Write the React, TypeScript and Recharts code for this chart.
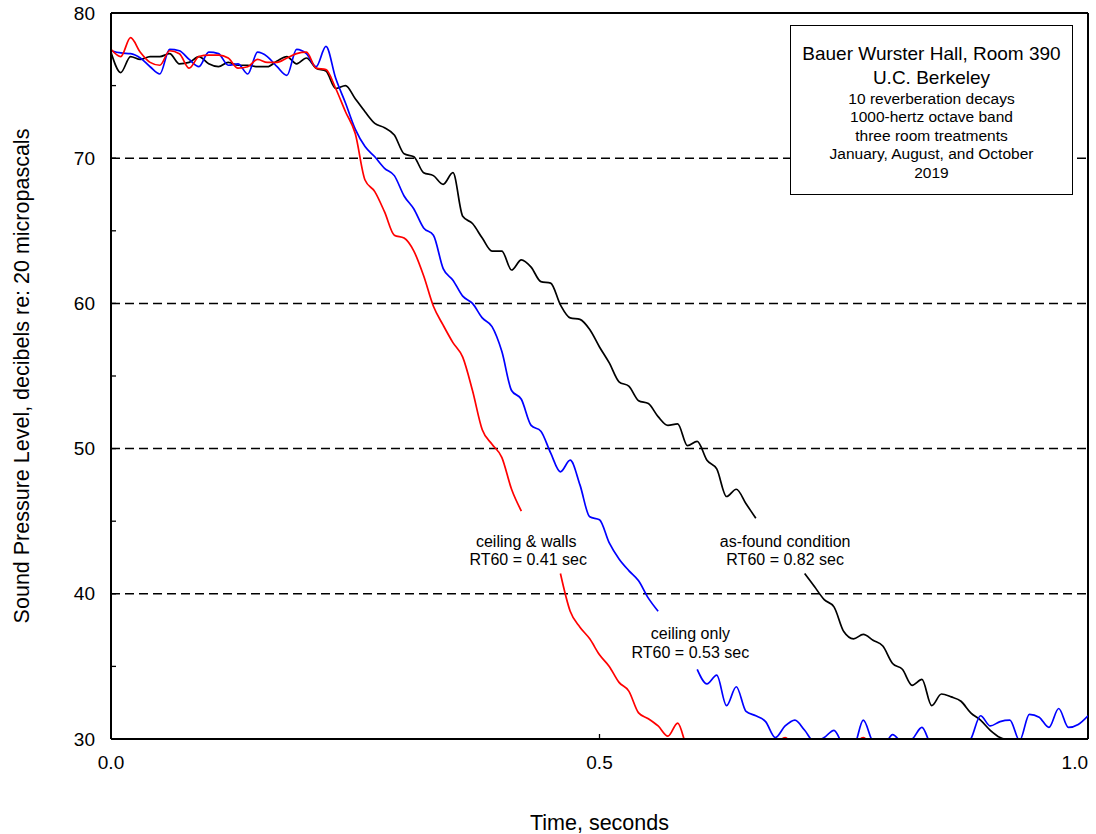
import React from 'react';
import { LineChart, Line, XAxis, YAxis, ReferenceLine, ReferenceDot, Label } from 'recharts';

// time axis, seconds
const times = [
  0, 0.01, 0.02, 0.03, 0.04, 0.05, 0.06, 0.07, 0.08, 0.09,
  0.1, 0.11, 0.12, 0.13, 0.14, 0.15, 0.16, 0.17, 0.18, 0.19,
  0.2, 0.21, 0.22, 0.23, 0.24, 0.25, 0.26, 0.27, 0.28, 0.29,
  0.3, 0.31, 0.32, 0.33, 0.34, 0.35, 0.36, 0.37, 0.38, 0.39,
  0.4, 0.41, 0.42, 0.43, 0.44, 0.45, 0.46, 0.47, 0.48, 0.49,
  0.5, 0.51, 0.52, 0.53, 0.54, 0.55, 0.56, 0.57, 0.58, 0.59,
  0.6, 0.61, 0.62, 0.63, 0.64, 0.65, 0.66, 0.67, 0.68, 0.69,
  0.7, 0.71, 0.72, 0.73, 0.74, 0.75, 0.76, 0.77, 0.78, 0.79,
  0.8, 0.81, 0.82, 0.83, 0.84, 0.85, 0.86, 0.87, 0.88, 0.89,
  0.9, 0.91, 0.92, 0.93, 0.94, 0.95, 0.96, 0.97, 0.98, 0.99,
  1.0,
];

// as-found condition (black)
const asFound = [
  77.3, 75.9, 77.0, 76.8, 77.0, 77.0, 77.2, 76.5, 76.6, 77.0,
  76.5, 76.3, 76.6, 76.4, 76.4, 76.3, 76.3, 76.7, 77.0, 76.5,
  76.9, 76.2, 76.0, 74.8, 75.0, 74.1, 73.2, 72.4, 72.1, 71.6,
  70.3, 70.1, 69.0, 68.8, 68.2, 69.0, 66.0, 65.5, 64.5, 63.6,
  63.6, 62.3, 63.0, 62.5, 61.5, 61.4, 59.9, 59.0, 58.9, 58.2,
  57.0, 55.9, 54.6, 54.3, 53.3, 53.1, 52.2, 51.6, 51.7, 50.2,
  50.5, 49.2, 48.6, 46.7, 47.2, 46.2, 45.2, null, null, null,
  null, 41.4, 40.5, 39.6, 39.1, 37.4, 36.9, 37.2, 36.8, 36.4,
  35.2, 34.8, 33.7, 34.1, 32.3, 33.1, 32.9, 32.6, 31.8, 31.3,
  30.6, 30.1, 29.9, 29.6, null, null, null, null, null, null,
  null,
];

// ceiling only (blue)
const ceilingOnly = [
  77.4, 77.25, 77.2, 76.9, 76.3, 75.8, 77.5, 77.4, 76.8, 76.3,
  77.3, 77.2, 76.4, 76.5, 75.8, 77.3, 77.0, 76.3, 75.7, 77.5,
  77.2, 76.3, 77.7, 75.5, 73.8, 72.0, 70.8, 70.1, 69.3, 68.8,
  67.4, 66.5, 65.2, 64.7, 62.4, 61.6, 60.5, 60.0, 59.0, 58.4,
  56.7, 54.0, 53.4, 51.6, 51.2, 49.7, 48.4, 49.2, 47.5, 45.3,
  45.1, 43.5, 42.4, 41.6, 40.9, 39.7, 38.8, null, null, null,
  34.8, 33.8, 34.4, 32.3, 33.6, 31.9, 31.6, 31.2, 30.1, 30.9,
  31.3, 30.6, 29.8, 30.1, 30.6, 29.6, 29.5, 31.3, 29.8, 29.5,
  30.3, 29.8, 30.0, 30.8, 29.6, 29.5, 29.5, 29.5, 30.0, 31.6,
  30.9, 31.2, 31.3, 29.9, 31.7, 31.5, 30.8, 32.1, 30.8, 31.0,
  31.6,
];

// ceiling & walls (red)
const ceilingWalls = [
  77.5, 77.0, 78.3, 77.3, 76.6, 76.4, 77.4, 77.2, 76.2, 77.0,
  77.1, 77.1, 76.9, 76.2, 76.3, 76.8, 76.6, 76.6, 76.9, 77.2,
  77.3, 76.2, 76.1, 74.8, 73.2, 71.7, 68.5, 67.7, 66.3, 64.7,
  64.5, 63.6, 61.9, 59.8, 58.5, 57.3, 56.3, 54.0, 51.3, 50.3,
  49.4, 47.2, 45.7, null, null, null, 41.4, 38.8, 37.7, 36.9,
  35.8, 35.0, 33.9, 33.3, 31.8, 31.4, 30.9, 30.2, 31.1, 29.4,
  29.0, 29.0, 29.0, 29.2, 29.0, 29.0, 29.0, 29.2, 29.6, 30.1,
  29.4, 29.0, 29.0, 29.0, 29.2, 29.3, 29.6, 30.1, 29.4, 29.0,
  null, null, null, null, null, null, null, null, null, null,
  null, null, null, null, null, null, null, null, null, null,
  null,
];

const yTicks = [30, 35, 40, 45, 50, 55, 60, 65, 70, 75, 80];
const xTicks = [0, 0.5, 1];
const gridLevels = [40, 50, 60, 70];

const notes = [
  { t: 0.425, v: 43.6, text: 'ceiling & walls' },
  { t: 0.427, v: 42.4, text: 'RT60 = 0.41 sec' },
  { t: 0.690, v: 43.6, text: 'as-found condition' },
  { t: 0.690, v: 42.4, text: 'RT60 = 0.82 sec' },
  { t: 0.593, v: 37.3, text: 'ceiling only' },
  { t: 0.593, v: 36.0, text: 'RT60 = 0.53 sec' },
];

const infoLines = [
  { text: 'Bauer Wurster Hall, Room 390', big: true },
  { text: 'U.C. Berkeley', big: true },
  { text: '10 reverberation decays', big: false },
  { text: '1000-hertz octave band', big: false },
  { text: 'three room treatments', big: false },
  { text: 'January, August, and October', big: false },
  { text: '2019', big: false },
];

const FONT = '"Liberation Sans", Arial, Helvetica, sans-serif';

const data = times.map((t, i) => ({
  t,
  asFound: asFound[i],
  ceilingOnly: ceilingOnly[i],
  ceilingWalls: ceilingWalls[i],
}));

function YTick(props: any) {
  const { x, y, payload } = props;
  const major = payload.value % 10 === 0;
  return (
    <g>
      <line x1={x} x2={x + 5} y1={y} y2={y} stroke="#000" strokeWidth={1.3} />
      {major && (
        <text x={x - 16} y={y} textAnchor="end" dominantBaseline="central" fontSize={19} fontFamily={FONT} fill="#000">
          {payload.value}
        </text>
      )}
    </g>
  );
}

function XTick(props: any) {
  const { x, y, payload } = props;
  const last = payload.value === 1;
  return (
    <g>
      <line x1={x} x2={x} y1={y} y2={y - 5} stroke="#000" strokeWidth={1.3} />
      <text x={x} y={y + 23} textAnchor={last ? 'end' : 'middle'} dominantBaseline="central" fontSize={19} fontFamily={FONT} fill="#000">
        {payload.value.toFixed(1)}
      </text>
    </g>
  );
}

export default function App() {
  return (
    <div style={{ position: 'absolute', left: 0, top: 0, width: 1096, height: 834, background: '#fff' }}>
      <LineChart width={1096} height={834} data={data} margin={{ top: 13, right: 8, left: 0, bottom: 0 }}>
        <XAxis
          type="number"
          dataKey="t"
          domain={[0, 1]}
          ticks={xTicks}
          allowDataOverflow
          height={95}
          tick={<XTick />}
          tickLine={false}
          tickSize={0}
          tickMargin={0}
          axisLine={{ stroke: '#000', strokeWidth: 2 }}
        >
          <Label
            content={(p: any) => (
              <text x={p.viewBox.x + p.viewBox.width / 2} y={823} textAnchor="middle" dominantBaseline="central" fontSize={21.5} fontFamily={FONT} fill="#000">
                Time, seconds
              </text>
            )}
          />
        </XAxis>
        <YAxis
          type="number"
          domain={[30, 80]}
          ticks={yTicks}
          allowDataOverflow
          width={111}
          tick={<YTick />}
          tickLine={false}
          tickSize={0}
          tickMargin={0}
          axisLine={{ stroke: '#000', strokeWidth: 2 }}
        >
          <Label
            content={(p: any) => {
              const cy = p.viewBox.y + p.viewBox.height / 2;
              return (
                <text x={22} y={cy} transform={`rotate(-90 22 ${cy})`} textAnchor="middle" dominantBaseline="central" fontSize={21.5} fontFamily={FONT} fill="#000">
                  Sound Pressure Level, decibels re: 20 micropascals
                </text>
              );
            }}
          />
        </YAxis>
        {gridLevels.map((g) => (
          <ReferenceLine key={g} y={g} stroke="#000" strokeWidth={1.5} strokeDasharray="9 5" />
        ))}
        <ReferenceLine y={80} stroke="#000" strokeWidth={2} />
        <ReferenceLine x={1} stroke="#000" strokeWidth={2} />
        <Line type="monotone" dataKey="asFound" stroke="#000000" strokeWidth={1.7} dot={false} isAnimationActive={false} connectNulls={false} />
        <Line type="monotone" dataKey="ceilingOnly" stroke="#0000ff" strokeWidth={1.7} dot={false} isAnimationActive={false} connectNulls={false} />
        <Line type="monotone" dataKey="ceilingWalls" stroke="#ff0000" strokeWidth={1.7} dot={false} isAnimationActive={false} connectNulls={false} />
        {notes.map((n) => (
          <ReferenceDot
            key={n.text}
            x={n.t}
            y={n.v}
            r={0}
            fill="none"
            stroke="none"
            label={{ value: n.text, position: 'center', fontSize: 16, fill: '#000', fontFamily: FONT }}
          />
        ))}
      </LineChart>
      <div
        style={{
          position: 'absolute',
          left: 790,
          top: 25,
          width: 283,
          height: 170,
          boxSizing: 'border-box',
          border: '1.5px solid #000',
          background: '#fff',
          textAlign: 'center',
          fontFamily: FONT,
          color: '#000',
          paddingTop: 16,
        }}
      >
        {infoLines.map((l) => (
          <div key={l.text} style={{ fontSize: l.big ? 19 : 15.5, lineHeight: l.big ? '24px' : '18.4px' }}>
            {l.text}
          </div>
        ))}
      </div>
    </div>
  );
}
